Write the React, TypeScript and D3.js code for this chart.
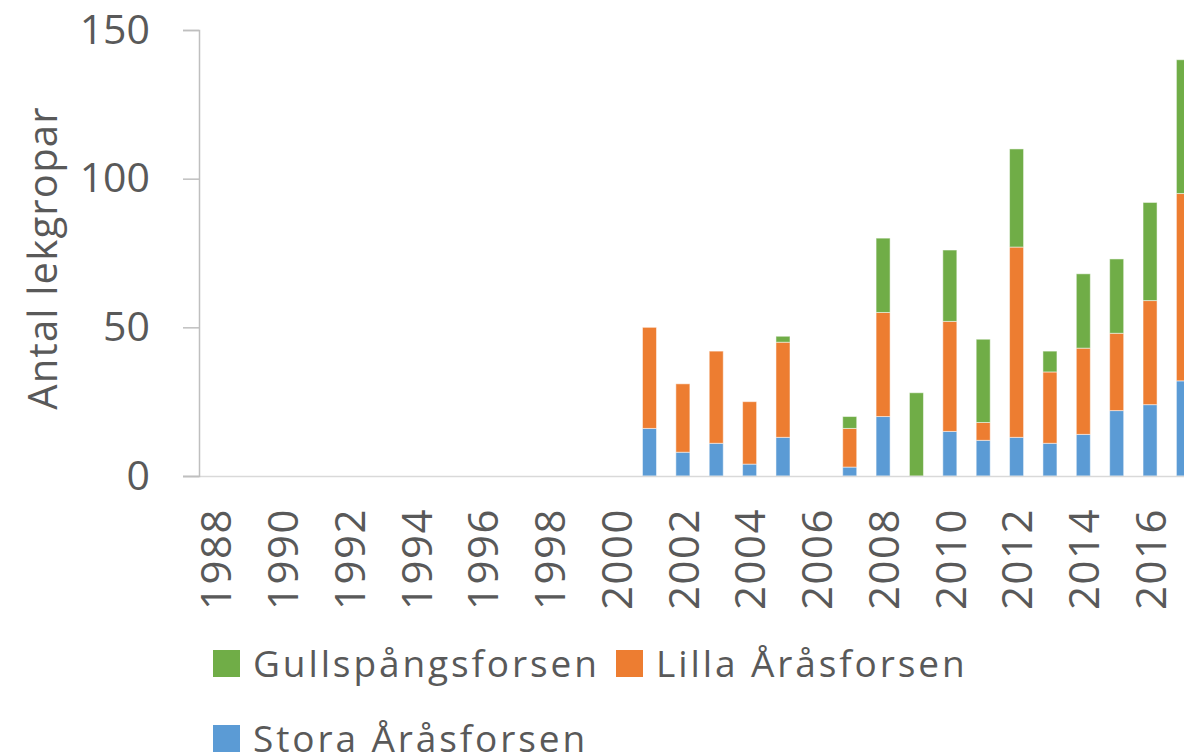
import * as d3 from 'd3';
import React, { useRef, useEffect } from 'react';

const years = d3.range(1988, 2018).map(String);
const tickYears = ['1988', '1990', '1992', '1994', '1996', '1998', '2000', '2002', '2004', '2006', '2008', '2010', '2012', '2014', '2016'];

// 1988 - 2017
const stora = [0, 0, 0, 0, 0, 0, 0, 0, 0, 0, 0, 0, 0, 16, 8, 11, 4, 13, 0, 3, 20, 0, 15, 12, 13, 11, 14, 22, 24, 32];
const lilla = [0, 0, 0, 0, 0, 0, 0, 0, 0, 0, 0, 0, 0, 34, 23, 31, 21, 32, 0, 13, 35, 0, 37, 6, 64, 24, 29, 26, 35, 63];
const gull = [0, 0, 0, 0, 0, 0, 0, 0, 0, 0, 0, 0, 0, 0, 0, 0, 0, 2, 0, 4, 25, 28, 24, 28, 33, 7, 25, 25, 33, 45];

const yTicks = [0, 50, 100, 150];

const seriesKeys = ['stora', 'lilla', 'gull'];
const seriesColors = { stora: '#5B9BD5', lilla: '#ED7D31', gull: '#70AD47' };

const font = '"Open Sans", sans-serif';
const textColor = '#595959';

function StackedChart({ width, height }) {
  const ref = useRef(null);

  useEffect(() => {
    const svg = d3.select(ref.current);
    svg.selectAll('*').remove();

    const left = 199;
    const bottom = 476;
    const top = 30;

    const table = years.map((yr, i) => ({ year: yr, stora: stora[i], lilla: lilla[i], gull: gull[i] }));
    const stacked = d3.stack().keys(seriesKeys)(table);

    const x = d3.scaleBand()
      .domain(years)
      .range([left, left + 30 * 33.37])
      .paddingInner(0.58)
      .paddingOuter(0.29);

    const y = d3.scaleLinear()
      .domain([0, 150])
      .range([bottom, top]);

    // bars
    svg.append('g')
      .selectAll('g')
      .data(stacked)
      .enter()
      .append('g')
      .attr('fill', d => seriesColors[d.key])
      .selectAll('rect')
      .data(d => d)
      .enter()
      .filter(d => d[1] - d[0] > 0)
      .append('rect')
      .attr('x', d => x(d.data.year))
      .attr('y', d => y(d[1]))
      .attr('width', x.bandwidth())
      .attr('height', d => y(d[0]) - y(d[1]))
      .attr('stroke', '#ffffff')
      .attr('stroke-opacity', 0.5)
      .attr('stroke-width', 1);

    // x axis line
    svg.append('line')
      .attr('x1', left - 16).attr('x2', width + 20)
      .attr('y1', bottom + 0.5).attr('y2', bottom + 0.5)
      .attr('stroke', '#D9D9D9')
      .attr('stroke-width', 1.5);

    // y axis
    const yAxis = svg.append('g')
      .attr('transform', `translate(${left},0)`)
      .call(d3.axisLeft(y).tickValues(yTicks).tickSize(16).tickPadding(33));
    yAxis.select('.domain').attr('stroke', '#BFBFBF').attr('stroke-width', 1.5);
    yAxis.selectAll('.tick line').attr('stroke', '#BFBFBF').attr('stroke-width', 1.5);
    yAxis.selectAll('text')
      .attr('font-family', font)
      .attr('font-size', 41)
      .attr('fill', textColor);

    // x tick labels
    svg.append('g')
      .selectAll('text')
      .data(tickYears)
      .enter()
      .append('text')
      .attr('transform', d => `translate(${x(d) + x.bandwidth() / 2 + 1},508) rotate(-90)`)
      .attr('dy', '0.35em')
      .attr('text-anchor', 'end')
      .attr('font-family', font)
      .attr('font-size', 42)
      .attr('letter-spacing', 1.5)
      .attr('fill', textColor)
      .text(d => d);

    // y axis title
    svg.append('text')
      .attr('transform', `translate(57,258) rotate(-90)`)
      .attr('text-anchor', 'middle')
      .attr('font-family', font)
      .attr('font-size', 40)
      .attr('letter-spacing', 1.2)
      .attr('fill', textColor)
      .text('Antal lekgropar');

    // legend
    const legendItems = [
      { key: 'gull', label: 'Gullspångsforsen', x: 213, y: 650 },
      { key: 'lilla', label: 'Lilla Åråsforsen', x: 616, y: 650 },
      { key: 'stora', label: 'Stora Åråsforsen', x: 213, y: 725 },
    ];
    const legend = svg.append('g')
      .selectAll('g')
      .data(legendItems)
      .enter()
      .append('g')
      .attr('transform', d => `translate(${d.x},${d.y})`);
    legend.append('rect')
      .attr('width', 27)
      .attr('height', 27)
      .attr('fill', d => seriesColors[d.key]);
    legend.append('text')
      .attr('x', 40)
      .attr('y', 27)
      .attr('font-family', font)
      .attr('font-size', 37)
      .attr('letter-spacing', 2.9)
      .attr('fill', textColor)
      .text(d => d.label);
  });

  return (
    <svg ref={ref} width={width} height={height} style={{ display: 'block' }}></svg>
  );
}

export default function App() {
  return (
    <div style={{ position: 'absolute', left: 0, top: 0, width: 1184, height: 756, overflow: 'hidden', background: '#fff' }}>
      <StackedChart width={1184} height={756} />
    </div>
  );
}
